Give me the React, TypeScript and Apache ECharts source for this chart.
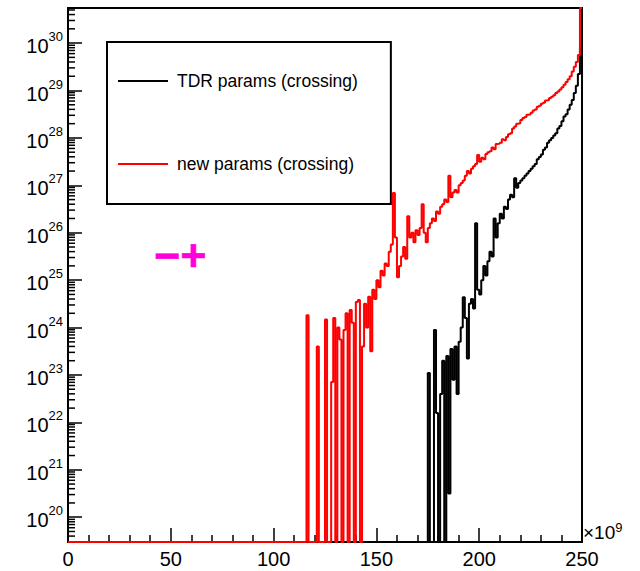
import React, { useEffect, useRef } from 'react';
import * as echarts from 'echarts';

// ---- axis ranges / labels ----
const X_MIN = 0;
const X_MAX = 250;
const X_INTERVAL = 50;
const Y_MIN = 3e19;
const Y_MAX = 5.5e30;
const Y_DECADES = 11; // number of decade labels wanted (10^20 ... 10^30)
const X_UNIT_LABEL = '9'; // x values are in units of 10^9
const BIN_WIDTH = 1;
const N_BINS = 250;

const SERIES_NAMES = ['TDR params (crossing)', 'new params (crossing)'];

// ---- histogram contents, log10 of bin content (null = empty bin) ----
// TDR params: bins starting at 170
const tdrFirstBin = 170;
const tdrLog10: (number | null)[] = [
  null, null, null, null, null, 23.04, null, null, 23.95, 22.2,
  null, 22.6, 23.3, null, 23.4, 20.5, 23.55, 22.9, 23.6, 22.6,
  23.7, 24.0, 24.64, 24.2, 23.35, 24.5, 24.6, 24.4, 26.2, 24.8,
  24.7, 25.0, 25.3, 25.1, 25.4, 25.6, 25.5, 26.3, 25.9, 26.2,
  26.4, 26.3, 26.55, 26.5, 26.7, 26.8, 26.75, 27.15, 26.95, 27.05,
  27.1, 27.15, 27.2, 27.25, 27.3, 27.35, 27.4, 27.45, 27.55, 27.6,
  27.65, 27.75, 27.8, 27.9, 27.95, 28.0, 28.05, 28.1, 28.2, 28.25,
  28.35, 28.45, 28.5, 28.6, 28.7, 28.8, 28.95, 29.1, 29.35, 29.9,
];

// new params: bins starting at 110
const newFirstBin = 110;
const newLog10: (number | null)[] = [
  null, null, null, null, null, null, 24.26, null, null, null,
  null, 23.6, null, null, null, 24.17, null, null, 22.85, 24.2,
  null, 24.0, 23.75, null, 23.95, 24.3, null, 24.37, 24.1, null,
  24.54, 24.58, null, 23.6, 24.5, 24.0, 24.65, 23.5, 24.8, 24.6,
  25.0, 24.85, 25.2, 25.1, 25.35, 25.3, 25.6, 25.75, 26.84, 25.9,
  25.06, 25.3, 25.5, 25.7, 25.45, 26.35, 25.9, 26.0, 25.8, 26.05,
  25.95, 26.1, 26.6, 26.0, 25.8, 26.1, 26.2, 26.3, 26.25, 26.45,
  26.4, 26.55, 26.6, 26.7, 26.65, 27.2, 26.75, 26.85, 26.9, 26.85,
  27.0, 27.05, 27.1, 27.2, 27.3, 27.25, 27.35, 27.4, 27.45, 27.64,
  27.5, 27.58, 27.55, 27.66, 27.7, 27.72, 27.8, 27.76, 27.87, 27.88,
  27.9, 27.97, 27.95, 28.02, 28.08, 28.1, 28.2, 28.24, 28.3, 28.31,
  28.38, 28.42, 28.44, 28.49, 28.5, 28.53, 28.58, 28.6, 28.66, 28.68,
  28.72, 28.74, 28.79, 28.8, 28.84, 28.87, 28.9, 28.95, 28.98, 29.02,
  29.07, 29.12, 29.18, 29.24, 29.3, 29.4, 29.5, 29.6, 29.75, 30.74,
];

function histPoints(firstBin: number, logs: (number | null)[]) {
  const pts: [number, number][] = [];
  let last = Y_MIN;
  for (let b = 0; b < N_BINS; b++) {
    const i = b - firstBin;
    const lv = i >= 0 && i < logs.length ? logs[i] : null;
    const y = lv == null ? Y_MIN : Math.min(Math.max(Math.pow(10, lv), Y_MIN), Y_MAX);
    pts.push([X_MIN + b * BIN_WIDTH, y]);
    last = y;
  }
  pts.push([X_MIN + N_BINS * BIN_WIDTH, last]);
  return pts;
}

function logMinorTicks() {
  const out: [number, number][] = [];
  const e0 = Math.floor(Math.log10(Y_MIN));
  const e1 = Math.ceil(Math.log10(Y_MAX));
  for (let e = e0; e <= e1; e++) {
    for (let k = 2; k <= 9; k++) {
      const v = k * Math.pow(10, e);
      if (v > Y_MIN && v < Y_MAX) out.push([X_MIN, v]);
    }
  }
  return out;
}

const FONT = 'Liberation Sans, Arial, Helvetica, sans-serif';

export default function App() {
  const ref = useRef<HTMLDivElement>(null);
  useEffect(() => {
    if (!ref.current) return;
    const chart = echarts.init(ref.current, undefined, { renderer: 'svg' });
    const supRich = {
      b: { fontSize: 20, lineHeight: 26, verticalAlign: 'bottom', fontFamily: FONT, color: '#000' },
      s: { fontSize: 13, lineHeight: 13, verticalAlign: 'top', fontFamily: FONT, color: '#000' },
    };
    chart.setOption({
      animation: false,
      backgroundColor: '#fff',
      grid: {
        left: 68,
        right: 58,
        top: 8,
        bottom: 29,
        show: true,
        borderColor: '#000',
        borderWidth: 2,
        containLabel: false,
      },
      legend: {
        data: SERIES_NAMES,
        left: 107,
        top: 42,
        orient: 'vertical',
        itemWidth: 50,
        itemHeight: 20,
        itemGap: 65,
        padding: [30, 33, 31, 10],
        borderColor: '#000',
        borderWidth: 2,
        backgroundColor: '#fff',
        selectedMode: false,
        itemStyle: { opacity: 0 },
        lineStyle: { width: 2 },
        textStyle: { fontFamily: FONT, fontSize: 17.5, color: '#000', padding: [0, 0, 0, 4] },
      },
      xAxis: {
        type: 'value',
        min: X_MIN,
        max: X_MAX,
        interval: X_INTERVAL,
        name: `{b|×10}{s|${X_UNIT_LABEL}}`,
        nameLocation: 'end',
        nameGap: 1,
        nameTextStyle: {
          verticalAlign: 'bottom',
          align: 'left',
          rich: {
            b: { fontSize: 19, lineHeight: 21, verticalAlign: 'bottom', fontFamily: FONT, color: '#000' },
            s: { fontSize: 13, lineHeight: 13, verticalAlign: 'top', fontFamily: FONT, color: '#000' },
          },
        },
        axisLine: { show: true, lineStyle: { color: '#000', width: 2 } },
        axisTick: { show: true, inside: true, length: 14, lineStyle: { color: '#000', width: 1.5 } },
        minorTick: { show: true, splitNumber: 5, length: 7, lineStyle: { color: '#000', width: 1.5 } },
        splitLine: { show: false },
        axisLabel: { fontFamily: FONT, fontSize: 20, color: '#000', margin: 7 },
      },
      yAxis: [
        {
          // data axis (logarithmic)
          type: 'log',
          logBase: 10,
          min: Y_MIN,
          max: Y_MAX,
          position: 'left',
          axisLine: { show: true, lineStyle: { color: '#000', width: 2 } },
          axisTick: { show: false },
          axisLabel: { show: false },
          splitLine: { show: false },
        },
        {
          // decade ticks/labels (exponent scale aligned with the log axis)
          type: 'value',
          min: Math.log10(Y_MIN),
          max: Math.log10(Y_MAX),
          splitNumber: Y_DECADES,
          position: 'left',
          axisLine: { show: false },
          axisTick: { show: true, inside: true, length: 14, lineStyle: { color: '#000', width: 1.5 } },
          splitLine: { show: false },
          axisLabel: {
            showMinLabel: false,
            showMaxLabel: false,
            margin: 5,
            formatter: (v: number) => `{b|10}{s|${Math.round(v)}}`,
            rich: supRich,
          },
        },
      ],
      series: [
        {
          name: SERIES_NAMES[0],
          type: 'line',
          step: 'end',
          symbol: 'none',
          clip: false,
          silent: true,
          yAxisIndex: 0,
          data: histPoints(tdrFirstBin, tdrLog10),
          lineStyle: { color: '#000', width: 2 },
          itemStyle: { color: '#000' },
          emphasis: { disabled: true },
          z: 3,
        },
        {
          name: SERIES_NAMES[1],
          type: 'line',
          step: 'end',
          symbol: 'none',
          clip: false,
          silent: true,
          yAxisIndex: 0,
          data: histPoints(newFirstBin, newLog10),
          lineStyle: { color: '#ff0000', width: 2 },
          itemStyle: { color: '#ff0000' },
          emphasis: { disabled: true },
          z: 4,
        },
        {
          type: 'custom',
          silent: true,
          yAxisIndex: 0,
          data: logMinorTicks(),
          z: 5,
          renderItem: (_p: any, api: any) => {
            const pt = api.coord([api.value(0), api.value(1)]);
            return {
              type: 'line',
              shape: { x1: pt[0], y1: pt[1], x2: pt[0] + 7, y2: pt[1] },
              style: { stroke: '#000', lineWidth: 1.5 },
            };
          },
        },
      ],
      graphic: [
        {
          type: 'text',
          x: 154,
          y: 255,
          silent: true,
          style: {
            text: '−+',
            fontFamily: FONT,
            fontWeight: 'bold',
            fontSize: 45,
            fill: '#ff00dd',
            stroke: '#ff00dd',
            lineWidth: 0.5,
            align: 'left',
            verticalAlign: 'middle',
          },
        },
      ],
    });
    return () => chart.dispose();
  }, []);
  return (
    <div
      ref={ref}
      style={{ position: 'fixed', left: 0, top: 0, width: 640, height: 571, background: '#fff' }}
    />
  );
}
